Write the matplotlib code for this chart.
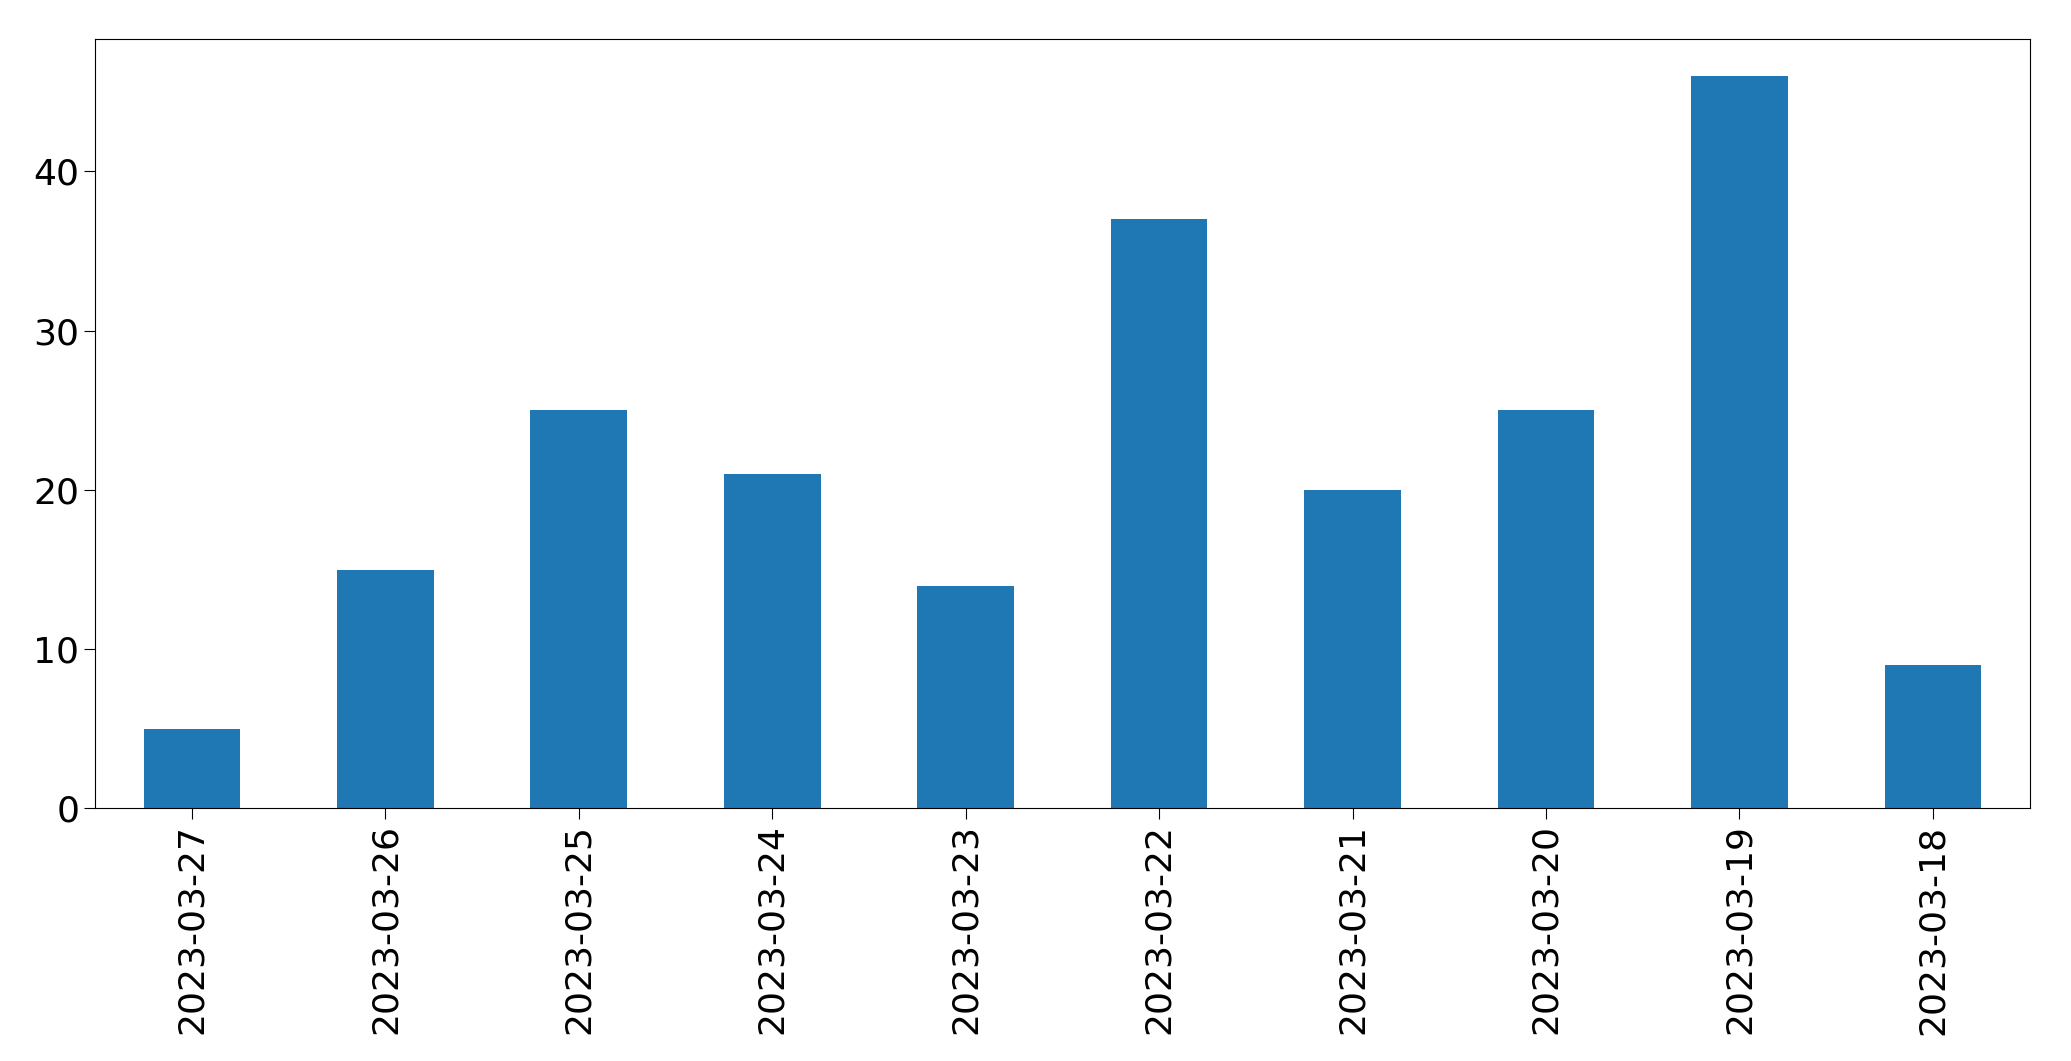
import matplotlib
matplotlib.use("Agg")
import matplotlib.pyplot as plt

dates = ["2023-03-27","2023-03-26","2023-03-25","2023-03-24","2023-03-23",
         "2023-03-22","2023-03-21","2023-03-20","2023-03-19","2023-03-18"]
counts = [5, 15, 25, 21, 14, 37, 20, 25, 46, 9]

fig = plt.figure(figsize=(20.71, 10.61), dpi=100)
ax = fig.add_axes([0.046, 0.238, 0.934, 0.725])
x = range(len(dates))
ax.bar(x, counts, width=0.5, color="#1f77b4")
ax.set_xticks(list(x))
ax.set_xticklabels(dates, rotation=90)
ax.set_xlim(-0.5, len(dates) - 0.5)
ax.set_ylim(0, 48.3)
ax.set_yticks([0, 10, 20, 30, 40])
ax.tick_params(labelsize=26, length=8)
fig.savefig("out.png", dpi=100)
